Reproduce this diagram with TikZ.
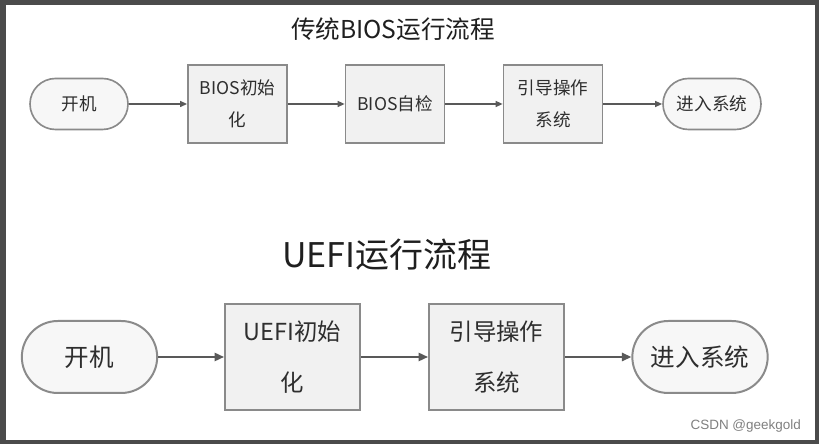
\documentclass[tikz,border=0pt]{standalone}
\usepackage{fontspec}
\newfontfamily\cjk{Noto Sans CJK SC}
\newfontfamily\wmfont{Liberation Sans}
\usetikzlibrary{positioning, arrows.meta, shapes.misc}
\definecolor{framegray}{HTML}{4B4B4B}
\definecolor{boxline}{HTML}{8A8A8A}
\definecolor{boxfill}{HTML}{F1F1F1}
\definecolor{inktext}{HTML}{2E2E2E}

\begin{document}
\begin{tikzpicture}[
  font=\cjk,
  titletxt/.style={text=black!88, inner sep=0pt},
  stepsmall/.style={draw=boxline, fill=boxfill, line width=1.4pt, align=center, inner sep=0pt,
    minimum width=2.97cm, minimum height=2.34cm, text=inktext,
    font=\cjk\fontsize{15}{27}\selectfont},
  termsmall/.style={rounded rectangle, draw=boxline, fill=white!97!black, line width=1.4pt,
    inner sep=0pt, minimum width=2.94cm, minimum height=1.53cm, text=inktext,
    font=\cjk\fontsize{15}{18}\selectfont},
  stepbig/.style={draw=boxline, fill=boxfill, line width=1.7pt, align=center, inner sep=0pt,
    minimum width=4.05cm, minimum height=3.18cm, text=inktext,
    font=\cjk\fontsize{20}{43}\selectfont},
  termbig/.style={rounded rectangle, draw=boxline, fill=white!97!black, line width=1.7pt,
    inner sep=0pt, minimum width=4.06cm, minimum height=2.16cm, text=inktext,
    font=\cjk\fontsize{21}{25}\selectfont},
  flowsmall/.style={-{Triangle[length=6pt,width=5pt]}, line width=1.3pt, draw=black!65},
  flowbig/.style={-{Triangle[length=8pt,width=7pt]}, line width=1.6pt, draw=black!65}
]

% --- screenshot frame ---
\fill[framegray] (0,0) rectangle (24.57,13.32);
\fill[white] (0.18,0.12) rectangle (24.45,13.17);

% --- legacy BIOS flow (top) ---
\node[titletxt, font=\cjk\fontsize{21}{25}\selectfont] (biostitle) at (11.79,12.45) {传统BIOS运行流程};

\node[termsmall] (kj1)   at (2.37,10.2)  {开机};
\node[stepsmall] (binit) at (7.125,10.2) {BIOS初始\\化};
\node[stepsmall] (bpost) at (11.85,10.2) {BIOS自检};
\node[stepsmall] (bboot) at (16.59,10.2) {引导操作\\系统};
\node[termsmall] (bsys)  at (21.36,10.2) {进入系统};

\draw[flowsmall] (kj1) -- (binit);
\draw[flowsmall] (binit) -- (bpost);
\draw[flowsmall] (bpost) -- (bboot);
\draw[flowsmall] (bboot) -- (bsys);

% --- UEFI flow (bottom) ---
\node[titletxt, font=\cjk\fontsize{29}{33}\selectfont] (uefititle) at (11.61,5.67) {UEFI运行流程};

\node[termbig] (kj2)   at (2.685,2.61) {开机};
\node[stepbig] (uinit) at (8.775,2.61) {UEFI初始\\化};
\node[stepbig] (uboot) at (14.895,2.61) {引导操作\\系统};
\node[termbig] (usys)  at (21.0,2.61)  {进入系统};

\draw[flowbig] (kj2) -- (uinit);
\draw[flowbig] (uinit) -- (uboot);
\draw[flowbig] (uboot) -- (usys);

% watermark
\node[font=\wmfont\fontsize{11.5}{13}\selectfont, text=black!50, anchor=east] (wm) at (24.15,0.54) {CSDN @geekgold};

\end{tikzpicture}
\end{document}
